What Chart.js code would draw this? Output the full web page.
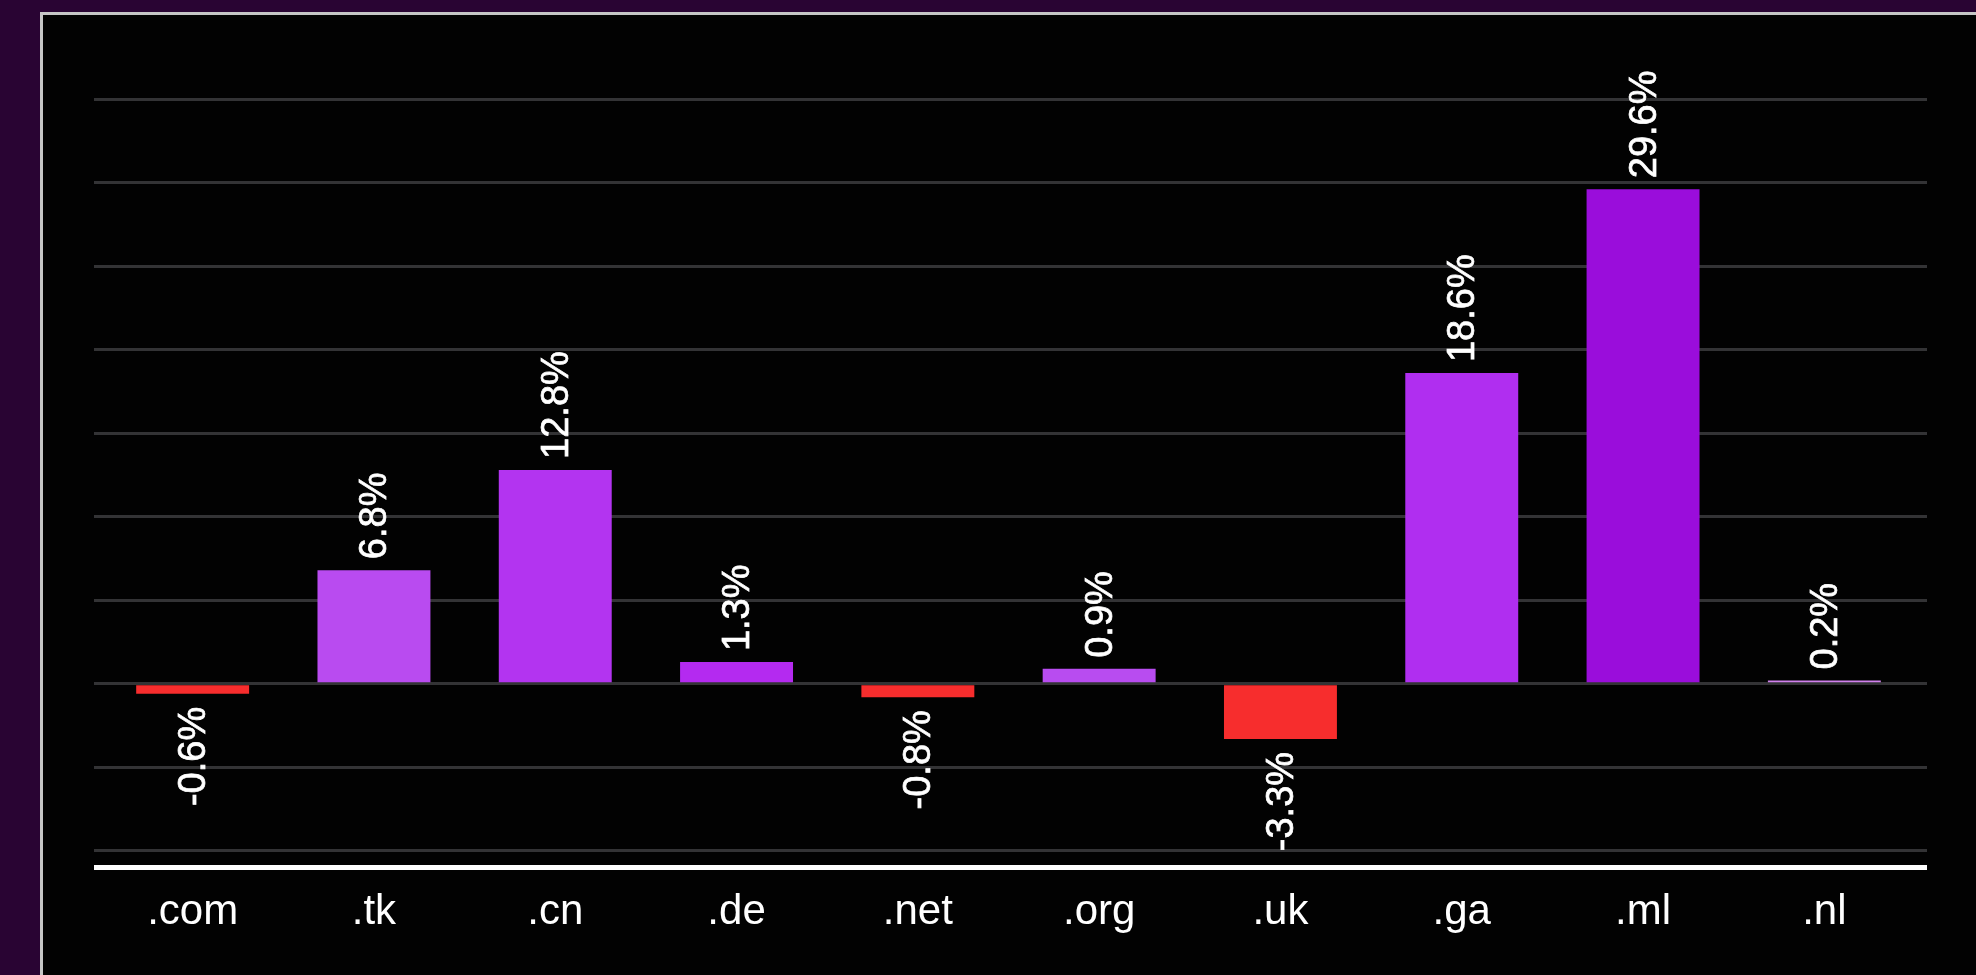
<!DOCTYPE html>
<html lang="en">
<head>
  <meta charset="UTF-8">
  <title>TLD change</title>
  <script src="https://cdn.jsdelivr.net/npm/chart.js"></script>
  <style>
    html, body {
      margin: 0;
      padding: 0;
      width: 1976px;
      height: 975px;
      overflow: hidden;
      background-color: #290433;
    }
    /* black card, runs off the right and bottom edge */
    .card {
      position: absolute;
      left: 40px;
      top: 12px;
      width: 2000px;
      height: 1000px;
      background-color: #020202;
      border: 3px solid #c6c6c6;
    }
    .chart-wrap {
      position: absolute;
      left: 0;
      top: 0;
      width: 1976px;
      height: 975px;
    }
  </style>
</head>
<body>

<div class="card"></div>
<div class="chart-wrap">
  <canvas id="barChart"></canvas>
</div>

<script>
  // values
  var domains = ['.com', '.tk', '.cn', '.de', '.net', '.org', '.uk', '.ga', '.ml', '.nl'];
  var changes = [-0.6, 6.8, 12.8, 1.3, -0.8, 0.9, -3.3, 18.6, 29.6, 0.2];
  var barColors = ['#f72d2d', '#b94bf0', '#b334f0', '#b42af0', '#f72d2d',
                   '#b84cf0', '#f72d2d', '#b02ef0', '#9a0ddb', '#d080ec'];
  var yMin = -11;
  var yMax = 35;
  var gridValues = [-10, -5, 0, 5, 10, 15, 20, 25, 30, 35];

  var labelFont = '38px "Liberation Sans", Arial, sans-serif';

  function setTicks(scale) {
    scale.ticks = [yMin].concat(gridValues).map(function (v) { return { value: v }; });
  }
  function gridColor(ctx) {
    return ctx.tick && ctx.tick.value === yMin ? '#ffffff' : '#333335';
  }
  function gridWidth(ctx) {
    return ctx.tick && ctx.tick.value === yMin ? 5 : 3;
  }

  // rotated value labels above / below the bars
  var valueLabels = {
    id: 'valueLabels',
    afterDatasetsDraw: function (chart) {
      var ctx = chart.ctx;
      var meta = chart.getDatasetMeta(0);
      ctx.save();
      ctx.font = labelFont;
      ctx.fillStyle = '#ffffff';
      ctx.strokeStyle = '#ffffff';
      ctx.lineWidth = 0.7;
      ctx.textBaseline = 'middle';
      meta.data.forEach(function (bar, i) {
        var v = changes[i];
        var text = v.toFixed(1) + '%';
        ctx.save();
        if (v >= 0) {
          ctx.translate(bar.x + 2, bar.y - 11);
          ctx.rotate(-Math.PI / 2);
          ctx.textAlign = 'left';
        } else {
          ctx.translate(bar.x + 2, bar.y + 13);
          ctx.rotate(-Math.PI / 2);
          ctx.textAlign = 'right';
        }
        ctx.fillText(text, 0, 0);
        ctx.strokeText(text, 0, 0);
        ctx.restore();
      });
      ctx.restore();
    }
  };

  var ctxBar = document.getElementById('barChart').getContext('2d');
  var barChart = new Chart(ctxBar, {
    type: 'bar',
    data: {
      labels: domains,
      datasets: [{
        label: 'Change',
        data: changes,
        backgroundColor: barColors,
        borderWidth: 0,
        barPercentage: 0.623,
        categoryPercentage: 1.0
      }]
    },
    options: {
      responsive: true,
      maintainAspectRatio: false,
      animation: false,
      devicePixelRatio: 1,
      layout: {
        padding: { left: 94, right: 49, top: 99, bottom: 25 }
      },
      plugins: {
        legend: { display: false },
        tooltip: { enabled: false }
      },
      scales: {
        x: {
          grid: { display: false },
          border: { display: false },
          ticks: {
            color: '#ffffff',
            padding: 12,
            maxRotation: 0,
            font: { family: '"Liberation Sans", Arial, sans-serif', size: 42 }
          }
        },
        y: {
          position: 'left',
          min: yMin,
          max: yMax,
          afterBuildTicks: setTicks,
          border: { display: false },
          grid: {
            color: gridColor,
            lineWidth: gridWidth,
            drawTicks: true,
            tickLength: 8
          },
          ticks: { display: false }
        },
        y2: {
          position: 'right',
          min: yMin,
          max: yMax,
          afterBuildTicks: setTicks,
          border: { display: false },
          grid: {
            color: gridColor,
            lineWidth: gridWidth,
            drawOnChartArea: false,
            drawTicks: true,
            tickLength: 12
          },
          ticks: { display: false }
        }
      }
    },
    plugins: [valueLabels]
  });
</script>
</body>
</html>
